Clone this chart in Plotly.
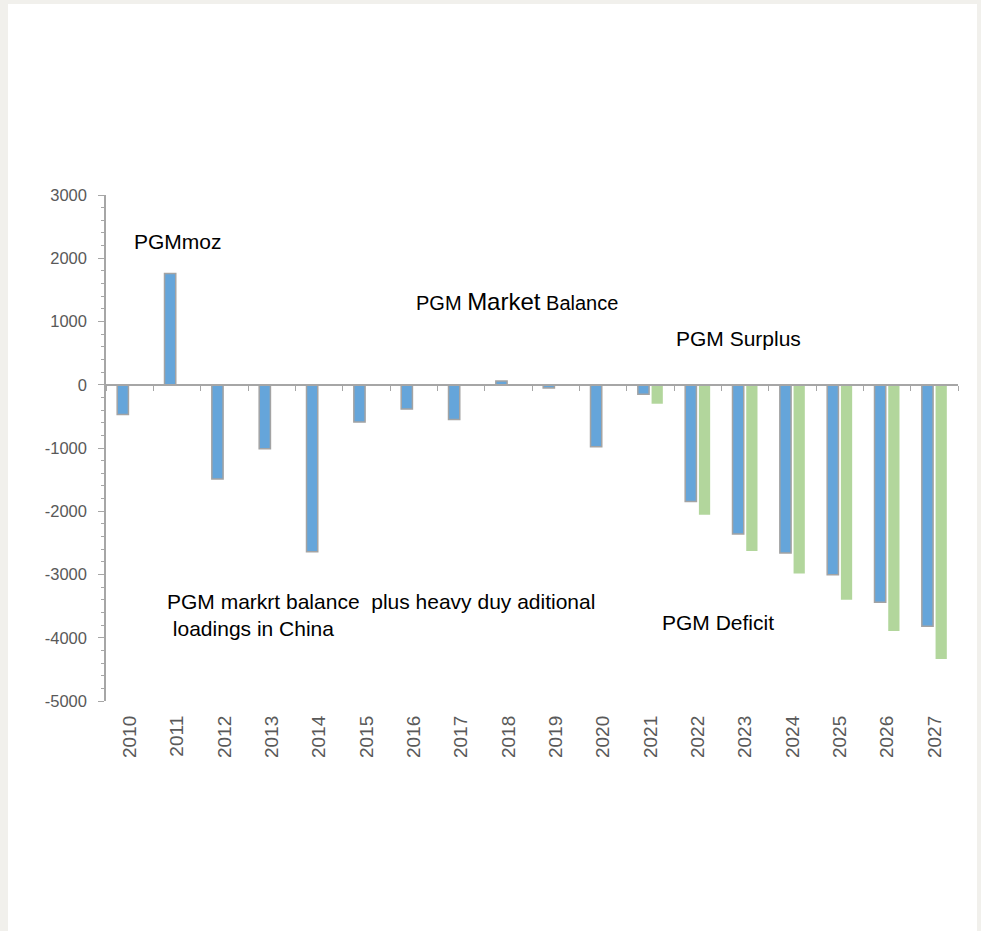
import plotly.graph_objects as go

years = [str(y) for y in range(2010, 2028)]
market_balance = [-470, 1760, -1490, -1010, -2640, -590, -385, -550, 60, -50, -980,
                  -150, -1845, -2360, -2660, -3005, -3440, -3820]
heavy_duty_balance = [None] * 11 + [-300, -2055, -2630, -2985, -3400, -3895, -4335]

y_tickvals = [3000, 2000, 1000, 0, -1000, -2000, -3000, -4000, -5000]
y_ticktext = ["3000", "2000", "1000", "0", "-1000", "-2000", "-3000", "-4000", "-5000"]
y_range = [-5000, 3000]

W, H = 981, 931
L, R, T, B = 106, 23, 195, 230
pw, ph = W - L - R, H - T - B

def px(xp):
    return (xp - L) / pw

def py(yp):
    return (H - B - yp) / ph

FONT = "Liberation Sans, Arial, Helvetica, sans-serif"
AX = "#a6a6a6"
TXT = "#595959"

fig = go.Figure()
fig.add_trace(go.Bar(x=years, y=market_balance, name="PGM market balance",
                     marker=dict(color="#65a5da", line=dict(color="#a3a3a3", width=1.5)),
                     hoverinfo="x+y"))
fig.add_trace(go.Bar(x=years, y=heavy_duty_balance, name="plus heavy duty loadings China",
                     marker=dict(color="#b2d69c", line=dict(width=0)),
                     hoverinfo="x+y"))
# helper trace so the zero-level axis with boundary ticks is drawn
fig.add_trace(go.Scatter(x=years, y=[0] * len(years), xaxis="x2", yaxis="y",
                         mode="markers", marker=dict(opacity=0), hoverinfo="skip",
                         showlegend=False))

zero_pos = (0 - y_range[0]) / (y_range[1] - y_range[0])

fig.update_layout(
    width=W, height=H,
    margin=dict(l=L, r=R, t=T, b=B, pad=0),
    paper_bgcolor="#f1f0ec",
    plot_bgcolor="rgba(0,0,0,0)",
    barmode="group", bargap=0.42, bargroupgap=0.18,
    showlegend=False,
    font=dict(family=FONT, color="black"),
    xaxis=dict(type="category", categoryorder="array", categoryarray=years,
               range=[-0.5, len(years) - 0.5],
               showline=False, ticks="", showgrid=False, zeroline=False,
               tickangle=-90, tickfont=dict(size=19, color=TXT, family=FONT),
               ticklabelstandoff=10),
    xaxis2=dict(type="category", categoryorder="array", categoryarray=years,
                range=[-0.5, len(years) - 0.5], overlaying="x",
                anchor="free", position=zero_pos, side="bottom",
                showline=True, linecolor=AX, linewidth=1.5,
                ticks="outside", tickson="boundaries", ticklen=5, tickwidth=1.2,
                tickcolor=AX, showticklabels=False, showgrid=False, zeroline=False),
    yaxis=dict(range=y_range, tickmode="array", tickvals=y_tickvals, ticktext=y_ticktext,
               showgrid=False, zeroline=False,
               showline=True, linecolor=AX, linewidth=1.5,
               ticks="outside", ticklen=6, tickwidth=1.2, tickcolor=AX,
               minor=dict(dtick=200, tick0=0, ticks="outside", ticklen=3, tickcolor=AX, tickwidth=1),
               tickfont=dict(size=16.5, color=TXT, family=FONT),
               ticklabelstandoff=8),
    shapes=[dict(type="rect", xref="paper", yref="paper", layer="below",
                 x0=px(8), x1=px(977), y0=py(931), y1=py(4),
                 fillcolor="white", line=dict(width=0))],
)

ann = dict(xref="paper", yref="paper", showarrow=False, xanchor="left", yanchor="middle",
           font=dict(size=21, color="black", family=FONT), align="left")
fig.add_annotation(text="PGMmoz", x=px(132), y=py(241), **ann)
fig.add_annotation(text="PGM <span style='font-size:24px'>Market</span> Balance",
                   x=px(414), y=py(301), **{**ann, "font": dict(size=20, color="black", family=FONT)})
fig.add_annotation(text="PGM Surplus", x=px(674), y=py(338), **ann)
fig.add_annotation(text="PGM markrt balance  plus heavy duy aditional<br> loadings in China",
                   x=px(165), y=py(615), **ann)
fig.add_annotation(text="PGM Deficit", x=px(660), y=py(622), **ann)

fig.write_html("out.html", config={"displayModeBar": False},
               post_script="document.body.style.margin='0';")
